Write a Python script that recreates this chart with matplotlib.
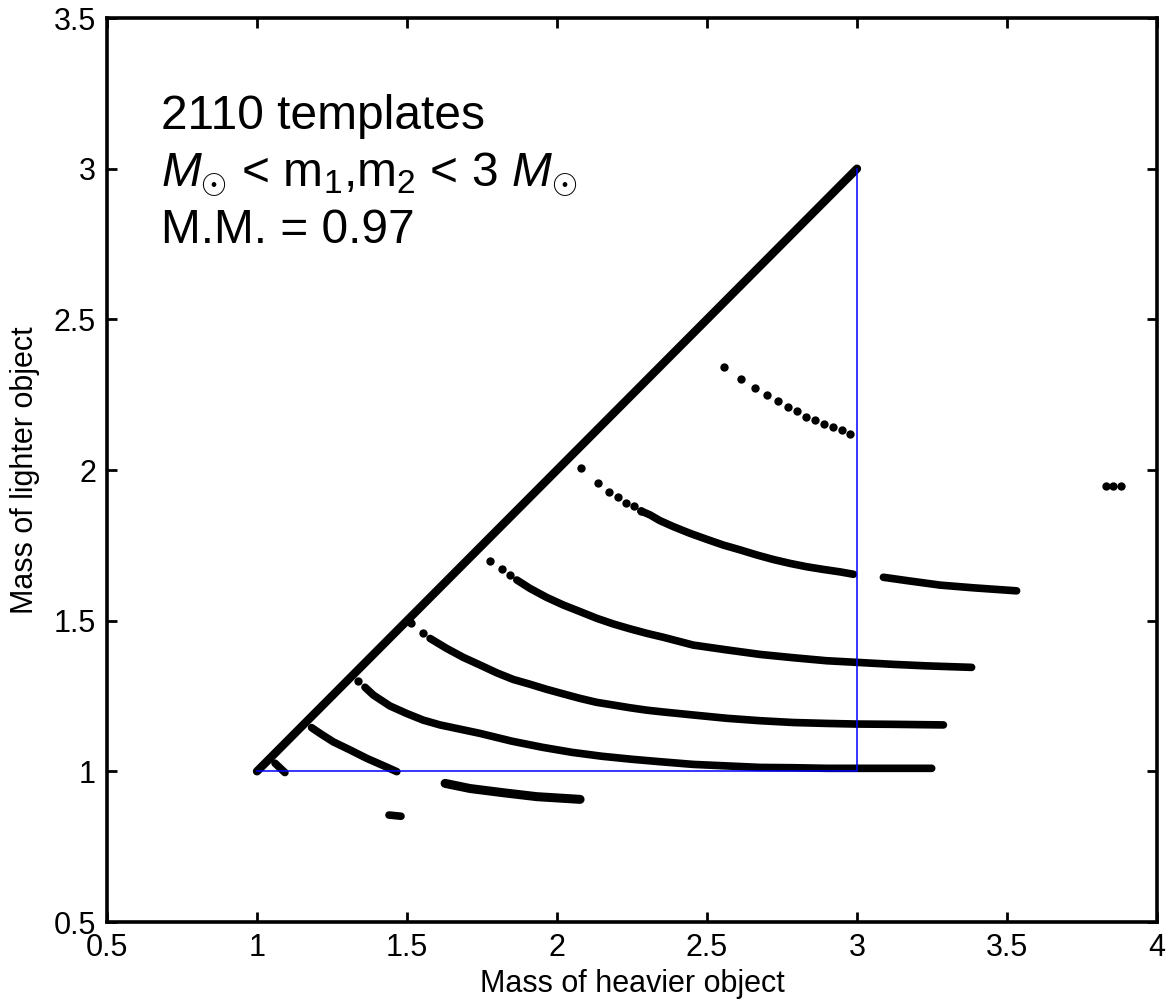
import numpy as np
import matplotlib
matplotlib.use('Agg')
import matplotlib.pyplot as plt

plt.rcParams['font.family'] = ['Liberation Sans', 'DejaVu Sans']
plt.rcParams['mathtext.fontset'] = 'custom'
plt.rcParams['mathtext.rm'] = 'Liberation Sans'
plt.rcParams['mathtext.it'] = 'Liberation Sans:italic'

# template positions (m1 = heavier, m2 = lighter)
diag_m1 = [1.00, 1.50, 2.00, 2.50, 3.00]
diag_m2 = [1.00, 1.50, 2.00, 2.50, 3.00]

a_m1 = [2.557, 2.613, 2.659, 2.700, 2.737, 2.771, 2.801, 2.831, 2.861, 2.891, 2.921, 2.949, 2.976]
a_m2 = [2.343, 2.301, 2.272, 2.249, 2.228, 2.210, 2.195, 2.177, 2.166, 2.154, 2.142, 2.134, 2.120]

b_dot_m1 = [2.079, 2.136, 2.173, 2.203, 2.230, 2.257, 2.280]
b_dot_m2 = [2.008, 1.958, 1.928, 1.909, 1.891, 1.880, 1.864]
b_m1 = [2.280, 2.310, 2.343, 2.388, 2.443, 2.499, 2.554, 2.610, 2.666, 2.721, 2.777, 2.832, 2.888, 2.943, 2.988]
b_m2 = [1.864, 1.851, 1.832, 1.812, 1.790, 1.770, 1.751, 1.735, 1.718, 1.703, 1.690, 1.679, 1.670, 1.662, 1.654]
b2_m1 = [3.088, 3.166, 3.277, 3.388, 3.532]
b2_m2 = [1.644, 1.633, 1.618, 1.609, 1.599]

c_dot_m1 = [1.777, 1.817, 1.843]
c_dot_m2 = [1.699, 1.670, 1.652]
c_m1 = [1.866, 1.910, 1.966, 2.021, 2.077, 2.132, 2.188, 2.243, 2.299, 2.354, 2.454, 2.566,
        2.677, 2.788, 2.899, 2.993, 3.121, 3.232, 3.382]
c_m2 = [1.635, 1.607, 1.577, 1.552, 1.530, 1.508, 1.489, 1.473, 1.458, 1.445, 1.419, 1.403,
        1.388, 1.377, 1.367, 1.362, 1.355, 1.350, 1.345]

d_dot_m1 = [1.515, 1.552]
d_dot_m2 = [1.491, 1.458]
d_m1 = [1.577, 1.632, 1.688, 1.743, 1.799, 1.854, 1.910, 1.966, 2.021, 2.077, 2.132, 2.188,
        2.243, 2.299, 2.354, 2.454, 2.566, 2.677, 2.788, 2.899, 2.993, 3.121, 3.288]
d_m2 = [1.441, 1.408, 1.378, 1.353, 1.327, 1.305, 1.289, 1.272, 1.257, 1.242, 1.229, 1.220,
        1.211, 1.203, 1.197, 1.187, 1.176, 1.168, 1.162, 1.159, 1.157, 1.156, 1.154]

e_dot_m1 = [1.338]
e_dot_m2 = [1.300]
e_m1 = [1.360, 1.388, 1.443, 1.499, 1.554, 1.610, 1.743, 1.850, 1.950, 2.050, 2.150, 2.250,
        2.343, 2.454, 2.566, 2.677, 2.788, 2.899, 2.993, 3.121, 3.249]
e_m2 = [1.279, 1.253, 1.217, 1.192, 1.170, 1.154, 1.126, 1.100, 1.080, 1.063, 1.050, 1.040,
        1.032, 1.023, 1.018, 1.013, 1.012, 1.010, 1.010, 1.010, 1.010]

f_m1 = [1.182, 1.210, 1.254, 1.310, 1.366, 1.421, 1.466]
f_m2 = [1.145, 1.126, 1.098, 1.071, 1.043, 1.019, 0.999]

g_m1 = [1.060, 1.077, 1.093]
g_m2 = [1.027, 1.011, 0.996]

low_m1 = [1.627, 1.710, 1.821, 1.932, 2.077]
low_m2 = [0.960, 0.943, 0.929, 0.916, 0.907]

blob_m1 = [1.440, 1.460, 1.480]
blob_m2 = [0.855, 0.853, 0.851]

far_m1 = [3.830, 3.854, 3.879]
far_m2 = [1.948, 1.948, 1.948]

# parameter space boundary
box_m1 = [1, 3, 3]
box_m2 = [1, 1, 3]

xticks = [0.5, 1, 1.5, 2, 2.5, 3, 3.5, 4]
xtick_labels = ['0.5', '1', '1.5', '2', '2.5', '3', '3.5', '4']
yticks = [0.5, 1, 1.5, 2, 2.5, 3, 3.5]
ytick_labels = ['0.5', '1', '1.5', '2', '2.5', '3', '3.5']

fig = plt.figure(figsize=(11.71, 10.07), dpi=100)
ax = fig.add_axes([107/1171, 85/1007, 1050/1171, 904/1007])

dot = dict(marker='o', ms=6, color='k', ls='none', mew=0)
dense = dict(color='k', lw=5.5, solid_capstyle='round', solid_joinstyle='round')

ax.plot(diag_m1, diag_m2, color='k', lw=6, solid_capstyle='round')
for xs, ys in [(b_m1, b_m2), (b2_m1, b2_m2), (c_m1, c_m2), (d_m1, d_m2), (e_m1, e_m2),
               (f_m1, f_m2), (g_m1, g_m2), (blob_m1, blob_m2)]:
    ax.plot(xs, ys, **dense)
ax.plot(low_m1, low_m2, color='k', lw=6.5, solid_capstyle='round')
for xs, ys in [(a_m1, a_m2), (b_dot_m1, b_dot_m2), (c_dot_m1, c_dot_m2), (d_dot_m1, d_dot_m2),
               (e_dot_m1, e_dot_m2), (far_m1, far_m2)]:
    ax.plot(xs, ys, **dot)

ax.plot(box_m1, box_m2, color='#0000ff', lw=1.1, zorder=5)

ax.set_xlim(0.5, 4)
ax.set_ylim(0.5, 3.5)
ax.set_xticks(xticks)
ax.set_xticklabels(xtick_labels)
ax.set_yticks(yticks)
ax.set_yticklabels(ytick_labels)
ax.tick_params(direction='in', top=True, right=True, length=7, width=2,
               labelsize=22, pad=8)
for s in ax.spines.values():
    s.set_linewidth(2.6)

ax.set_xlabel('Mass of heavier object', fontsize=22, labelpad=4)
ax.set_ylabel('Mass of lighter object', fontsize=22, labelpad=10)

tx = (161 - 107) / 1050
ax.text(tx, (922 - 129) / 904, '2110 templates', transform=ax.transAxes,
        fontsize=34.5, va='baseline')
ax.text(tx, (922 - 186) / 904, r'$M_{\odot}$ < m$_1$,m$_2$ < 3 $M_{\odot}$',
        transform=ax.transAxes, fontsize=34.5, va='baseline')
ax.text(tx, (922 - 243) / 904, 'M.M. = 0.97', transform=ax.transAxes,
        fontsize=34.5, va='baseline')

plt.savefig('out.png', dpi=100)
